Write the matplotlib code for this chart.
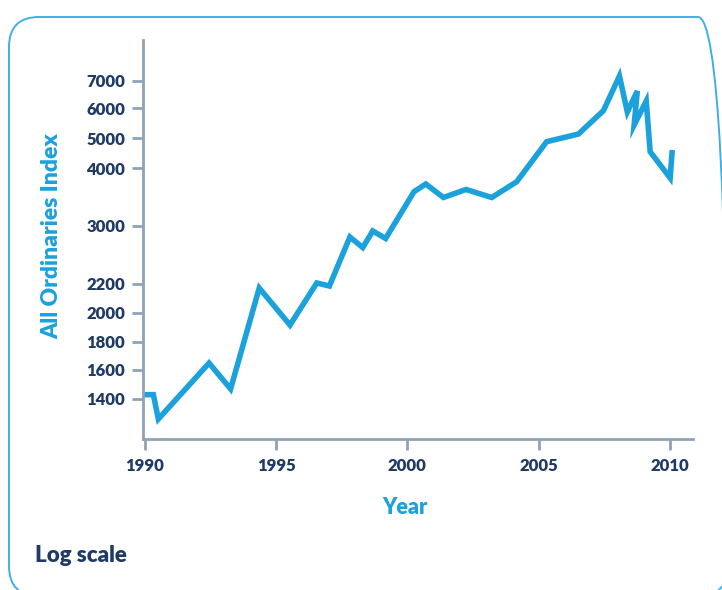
import numpy as np
import matplotlib
matplotlib.use("Agg")
import matplotlib.pyplot as plt
from matplotlib.patches import FancyBboxPatch
from matplotlib.ticker import FixedLocator, NullLocator, FixedFormatter

# ---- data ----
years = [1989.95, 1990.33, 1990.52, 1992.45, 1993.27, 1994.36, 1995.53, 1996.55,
         1997.03, 1997.81, 1998.30, 1998.68, 1999.17, 2000.25, 2000.70, 2001.37,
         2002.23, 2003.21, 2004.16, 2005.30, 2006.51, 2007.46, 2008.07, 2008.37,
         2008.75, 2008.63, 2009.09, 2009.24, 2010.00, 2010.08]
index_values = [1427, 1427, 1256, 1649, 1467, 2172, 1915, 2214,
                2186, 2848, 2703, 2931, 2828, 3594, 3728, 3494,
                3633, 3494, 3768, 4887, 5143, 5920, 7170, 5877,
                6627, 5443, 6264, 4553, 3832, 4610]

x_ticks = [1990, 1995, 2000, 2005, 2010]
y_ticks = [1400, 1600, 1800, 2000, 2200, 3000, 4000, 5000, 6000, 7000]
y_tick_labels = [str(v) for v in y_ticks]

# ---- uneven "log" axis of the reference: value -> relative axis position ----
scale_vals = np.array([1000, 1400, 1600, 1800, 2000, 2200, 3000, 4000, 5000, 6000, 7000, 10000], float)
scale_pos = np.array([-16.5, 40.5, 69, 97.3, 126.3, 155, 213, 270.7, 300.7, 330.7, 358.3, 441.1])

def fwd(v):
    return np.interp(np.asarray(v, float), scale_vals, scale_pos)

def inv(p):
    return np.interp(np.asarray(p, float), scale_pos, scale_vals)

LINE = "#1ba1dc"
NAVY = "#1f3a64"
SPINE = "#8fa3b5"
FONT = ["Lato", "DejaVu Sans"]

W, H = 722, 590
fig = plt.figure(figsize=(W / 100, H / 100), dpi=100)

# rounded frame (right and bottom run just off the canvas)
frame = FancyBboxPatch((9, -6), 719, 579, boxstyle="round,pad=0,rounding_size=30",
                       transform=None, fill=False, edgecolor="#3fb0e6", linewidth=1.4)
fig.patches.append(frame)

ax = fig.add_axes([143.3 / W, 151 / H, 549.7 / W, 399 / H])
ax.set_yscale("function", functions=(fwd, inv))
ax.plot(years, index_values, color=LINE, lw=4.0, solid_joinstyle="miter",
        solid_capstyle="butt", clip_on=False)

ax.set_xlim(1989.947, 2010.87)
ax.set_ylim(float(inv(0)), float(inv(399)))

ax.xaxis.set_major_locator(FixedLocator(x_ticks))
ax.xaxis.set_minor_locator(NullLocator())
ax.yaxis.set_major_locator(FixedLocator(y_ticks))
ax.yaxis.set_major_formatter(FixedFormatter(y_tick_labels))
ax.yaxis.set_minor_locator(NullLocator())

for s in ["top", "right"]:
    ax.spines[s].set_visible(False)
for s in ["left", "bottom"]:
    ax.spines[s].set_color(SPINE)
    ax.spines[s].set_linewidth(2)

ax.tick_params(axis="both", direction="out", length=8, width=2, color=SPINE,
               labelcolor=NAVY, labelsize=12)
ax.tick_params(axis="x", pad=6)
ax.tick_params(axis="y", pad=5)
for lab in ax.get_xticklabels() + ax.get_yticklabels():
    lab.set_fontweight("heavy")
    lab.set_family(FONT)

fig.text(52 / W, 1 - 236.5 / H, "All Ordinaries Index", rotation=90, ha="center", va="center",
         color=LINE, fontsize=16.5, fontweight="heavy", family=FONT)
fig.text(405 / W, 1 - 507 / H, "Year", ha="center", va="center",
         color=LINE, fontsize=15.5, fontweight="heavy", family=FONT)
fig.text(35 / W, 1 - 555 / H, "Log scale", ha="left", va="center",
         color=NAVY, fontsize=16, fontweight="heavy", family=FONT)

fig.savefig("out.png", dpi=100)
